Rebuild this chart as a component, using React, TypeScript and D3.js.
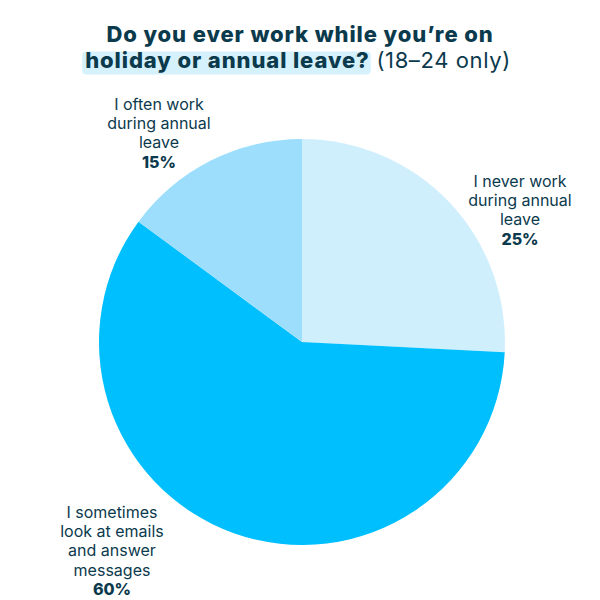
import { useEffect, useRef } from "react";
import * as d3 from "d3";

const categories = [
	["I never work", "during annual", "leave"],
	["I sometimes", "look at emails", "and answer", "messages"],
	["I often work", "during annual", "leave"],
];
const values = [25.8, 59.3, 14.9];
const percentLabels = ["25%", "60%", "15%"];
const colors = ["#d0effd", "#00bffe", "#9cdefc"];
const titleLine1 = "Do you ever work while you\u2019re on";
const titleBold2 = "holiday or annual leave?";
const titleRegular2 = " (18\u201324 only)";

export default function App() {
	const svgRef = useRef<SVGSVGElement | null>(null);

	useEffect(() => {
		if (!svgRef.current) return;
		const svg = d3.select(svgRef.current);
		svg.selectAll("*").remove();

		const width = 600;
		const height = 600;
		const cx = 302;
		const cy = 342;
		const radius = 203;
		const font = "Inter, 'Noto Sans', sans-serif";
		const dark = "#0c3a4d";

		svg.attr("viewBox", [0, 0, width, height]).attr("width", width).attr("height", height);
		svg.append("rect").attr("width", width).attr("height", height).attr("fill", "#fff");

		// title
		const title = svg.append("g").attr("font-family", font).attr("fill", dark);
		title
			.append("text")
			.attr("x", 300)
			.attr("y", 42)
			.attr("text-anchor", "middle")
			.attr("font-size", 22)
			.attr("font-weight", 800)
			.attr("letter-spacing", 0.9)
			.text(titleLine1);

		const hl = title.append("rect").attr("fill", "#d4f1fc").attr("rx", 4);
		const line2 = title
			.append("text")
			.attr("x", 298)
			.attr("y", 68)
			.attr("text-anchor", "middle")
			.attr("font-size", 22);
		const bold = line2
			.append("tspan")
			.attr("font-weight", 800)
			.attr("letter-spacing", 0.9)
			.text(titleBold2);
		line2.append("tspan").attr("font-weight", 400).attr("letter-spacing", 0.6).text(titleRegular2);
		const box = (line2.node() as SVGTextElement).getBBox();
		const boldW = (bold.node() as SVGTextContentElement).getComputedTextLength();
		hl.attr("x", box.x - 3)
			.attr("y", 51.5)
			.attr("width", boldW + 4)
			.attr("height", 23);

		// pie
		const pie = d3.pie<number>().sort(null).value((d) => d);
		const arc = d3.arc<d3.PieArcDatum<number>>().innerRadius(0).outerRadius(radius);
		svg.append("g")
			.attr("transform", `translate(${cx},${cy})`)
			.selectAll("path")
			.data(pie(values))
			.join("path")
			.attr("d", arc)
			.attr("fill", (_, i) => colors[i]);

		// labels
		const labelPos: [number, number][] = [
			[520, 187],
			[112, 518],
			[159, 110],
		];
		const lineH = 19.2;
		categories.forEach((lines, i) => {
			const t = svg
				.append("text")
				.attr("font-family", font)
				.attr("font-size", 16)
				.attr("fill", dark)
				.attr("text-anchor", "middle");
			lines.forEach((l, j) => {
				t.append("tspan")
					.attr("x", labelPos[i][0])
					.attr("y", labelPos[i][1] + j * lineH)
					.text(l);
			});
			t.append("tspan")
				.attr("x", labelPos[i][0])
				.attr("y", labelPos[i][1] + lines.length * lineH)
				.attr("font-weight", 800)
				.text(percentLabels[i]);
		});
	}, []);

	return (
		<svg
			ref={svgRef}
			style={{ display: "block", position: "absolute", top: 0, left: 0 }}
		/>
	);
}
